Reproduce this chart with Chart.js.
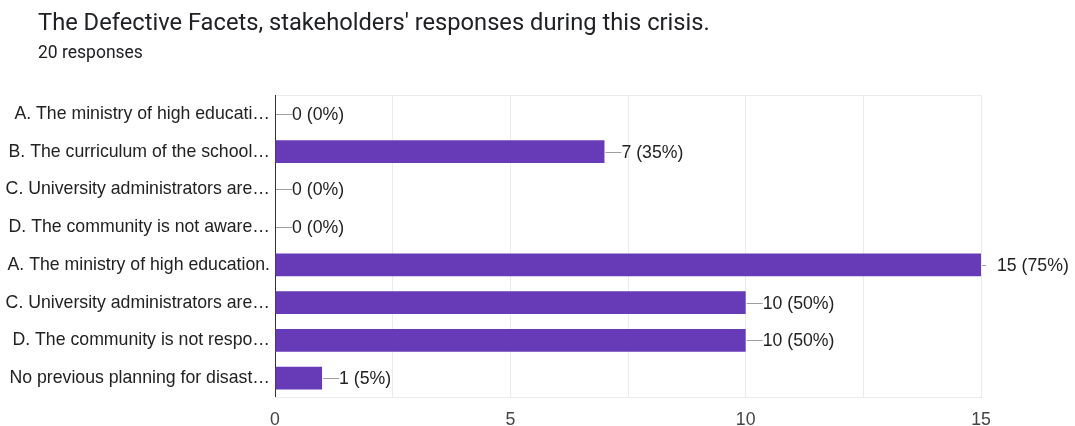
<!DOCTYPE html>
<html>
<head>
<meta charset="utf-8">
<script src="https://cdn.jsdelivr.net/npm/chart.js@4"></script>
<style>
  body { margin: 0; background: #fff; }
  #wrap { position: relative; width: 1075px; height: 426px; }
  #title { position: absolute; left: 38px; top: 8px; font: 23.7px Roboto, sans-serif; color: #202124; }
  #sub { position: absolute; left: 38px; top: 42px; font: 17.5px Roboto, sans-serif; color: #202124; }
  canvas { position: absolute; left: 0; top: 0; }
</style>
</head>
<body>
<div id="wrap">
  <canvas id="chart" width="1075" height="426"></canvas>
  <div id="title">The Defective Facets, stakeholders' responses during this crisis.</div>
  <div id="sub">20 responses</div>
</div>
<script>
const categories = [
  'A. The ministry of high educati…',
  'B. The curriculum of the school…',
  'C. University administrators are…',
  'D. The community is not aware…',
  'A. The ministry of high education.',
  'C. University administrators are…',
  'D. The community is not respo…',
  'No previous planning for disast…'
];
const counts = [0, 7, 0, 0, 15, 10, 10, 1];
const totalResponses = 20;
const xTicks = [0, 5, 10, 15];

const labelFont = '"Liberation Sans", Arial, sans-serif';

// light frame around the plot area plus the dark baseline on the left
const frame = {
  id: 'frame',
  beforeDatasetsDraw(chart) {
    const { ctx, chartArea: a } = chart;
    ctx.save();
    ctx.strokeStyle = '#ebebeb';
    ctx.lineWidth = 1;
    ctx.strokeRect(a.left + 0.5, a.top + 0.5, a.right - a.left, a.bottom - a.top);
    ctx.strokeStyle = '#333';
    ctx.beginPath();
    ctx.moveTo(a.left + 0.5, a.top);
    ctx.lineTo(a.left + 0.5, a.bottom);
    ctx.stroke();
    ctx.restore();
  }
};

// "n (p%)" labels with a small leader line after each bar
const valueLabels = {
  id: 'valueLabels',
  afterDatasetsDraw(chart) {
    const { ctx } = chart;
    const meta = chart.getDatasetMeta(0);
    const xMax = chart.scales.x.max;
    ctx.save();
    ctx.font = '17.7px ' + labelFont;
    ctx.fillStyle = '#222';
    ctx.textBaseline = 'middle';
    meta.data.forEach((bar, i) => {
      const v = counts[i];
      const x0 = bar.x + 1;
      const y = Math.round(bar.y) + 0.5;
      const full = v >= xMax;
      const lineLen = full ? 4 : 16;
      const textX = full ? x0 + 15 : x0 + lineLen;
      ctx.strokeStyle = '#9e9e9e';
      ctx.lineWidth = 1;
      ctx.beginPath();
      ctx.moveTo(x0, y);
      ctx.lineTo(x0 + lineLen, y);
      ctx.stroke();
      const pct = Math.round(v / totalResponses * 100);
      ctx.fillText(v + ' (' + pct + '%)', textX, y + 1);
    });
    ctx.restore();
  }
};

new Chart(document.getElementById('chart'), {
  type: 'bar',
  data: {
    labels: categories,
    datasets: [{
      data: counts,
      backgroundColor: '#673ab7',
      borderWidth: 0,
      barPercentage: 0.6,
      categoryPercentage: 1
    }]
  },
  options: {
    indexAxis: 'y',
    responsive: false,
    animation: false,
    layout: { padding: { top: 95, right: 94, left: 0, bottom: 0 } },
    plugins: { legend: { display: false }, tooltip: { enabled: false } },
    scales: {
      x: {
        min: 0,
        max: 15,
        afterFit(scale) { scale.height = 29; },
        afterBuildTicks(scale) {
          const t = [];
          for (let v = 0; v <= 15; v += 2.5) t.push({ value: v });
          scale.ticks = t;
        },
        ticks: {
          padding: 12,
          color: '#444',
          font: { family: labelFont, size: 17.7 },
          callback: v => xTicks.includes(v) ? String(v) : ''
        },
        grid: { color: '#ebebeb', drawTicks: false },
        border: { color: '#ebebeb' }
      },
      y: {
        afterFit(scale) { scale.width = 275; },
        ticks: {
          padding: 5,
          color: '#222',
          font: { family: labelFont, size: 17.7 }
        },
        grid: { display: false, drawTicks: false },
        border: { color: '#333', width: 1 }
      }
    }
  },
  plugins: [frame, valueLabels]
});
</script>
</body>
</html>
